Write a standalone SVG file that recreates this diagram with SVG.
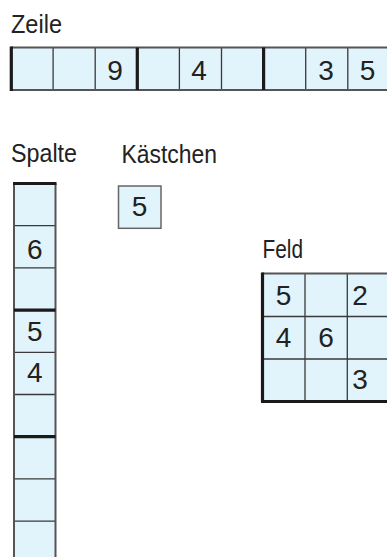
<svg xmlns="http://www.w3.org/2000/svg" width="387" height="557" viewBox="0 0 387 557">
<style>
.cell{fill:#e1f3fb;stroke:none}
.thin{stroke:#3a3a3a;stroke-width:1.3;fill:none}
.outer{stroke:#555;stroke-width:2;fill:none}
.thick{stroke:#1a1a1a;stroke-width:3.2;fill:none}
.lbl{font-family:"Liberation Sans",Arial,sans-serif;font-size:26px;fill:#222}
.dig{font-family:"Liberation Sans",Arial,sans-serif;font-size:28px;fill:#222;text-anchor:middle}
</style>
<rect width="387" height="557" fill="#fff"/>
<g id="zeile">
  <text class="lbl" x="11" y="32.5" textLength="51" lengthAdjust="spacingAndGlyphs">Zeile</text>
  <rect class="cell" x="11" y="47.5" width="380" height="42.5"/>
  <path class="thin" d="M53.1 47.5V90M95.2 47.5V90M179.4 47.5V90M221.5 47.5V90M305.7 47.5V90M347.8 47.5V90"/>
  <path class="outer" d="M11 47.5H391M11 90H391"/>
  <path class="thick" d="M11.3 46.5V91M137.3 47.5V90M263.6 47.5V90"/>
  <text class="dig" x="115" y="80">9</text>
  <text class="dig" x="199" y="80">4</text>
  <text class="dig" x="326" y="80">3</text>
  <text class="dig" x="367.5" y="80">5</text>
</g>
<g id="spalte">
  <text class="lbl" x="11" y="162.3" textLength="66" lengthAdjust="spacingAndGlyphs">Spalte</text>
  <rect class="cell" x="14" y="183.5" width="41.5" height="380"/>
  <path class="thin" d="M14 225.7H55.5M14 267.9H55.5M14 352.3H55.5M14 394.5H55.5M14 478.9H55.5M14 521.1H55.5"/>
  <path class="outer" d="M14 183.5V560M55.5 183.5V560"/>
  <path class="thick" d="M13 183.5H56.5M14 310.1H55.5M14 436.7H55.5"/>
  <text class="dig" x="34.7" y="258.8">6</text>
  <text class="dig" x="34.7" y="340.7">5</text>
  <text class="dig" x="34.7" y="382">4</text>
</g>
<g id="kaestchen">
  <text class="lbl" x="121.5" y="163.3" textLength="95.5" lengthAdjust="spacingAndGlyphs">Kästchen</text>
  <rect x="118.5" y="186" width="42.5" height="42.3" fill="#e1f3fb" stroke="#666" stroke-width="1.5"/>
  <text class="dig" x="139.5" y="215.5">5</text>
</g>
<g id="feld">
  <text class="lbl" x="262.5" y="258.3" textLength="40.5" lengthAdjust="spacingAndGlyphs">Feld</text>
  <rect class="cell" x="262" y="273.5" width="130" height="128"/>
  <path class="thin" d="M305 273.5V401.5M347.3 273.5V401.5M262 316.5H392M262 359H392"/>
  <path class="outer" d="M262 273.5H392"/>
  <path class="thick" d="M262.5 272.5V401.5M261 401.5H392"/>
  <text class="dig" x="283.5" y="305">5</text>
  <text class="dig" x="360" y="305">2</text>
  <text class="dig" x="283.5" y="346.7">4</text>
  <text class="dig" x="326" y="346.7">6</text>
  <text class="dig" x="360" y="389.3">3</text>
</g>
<g id="connectors"/>
</svg>
